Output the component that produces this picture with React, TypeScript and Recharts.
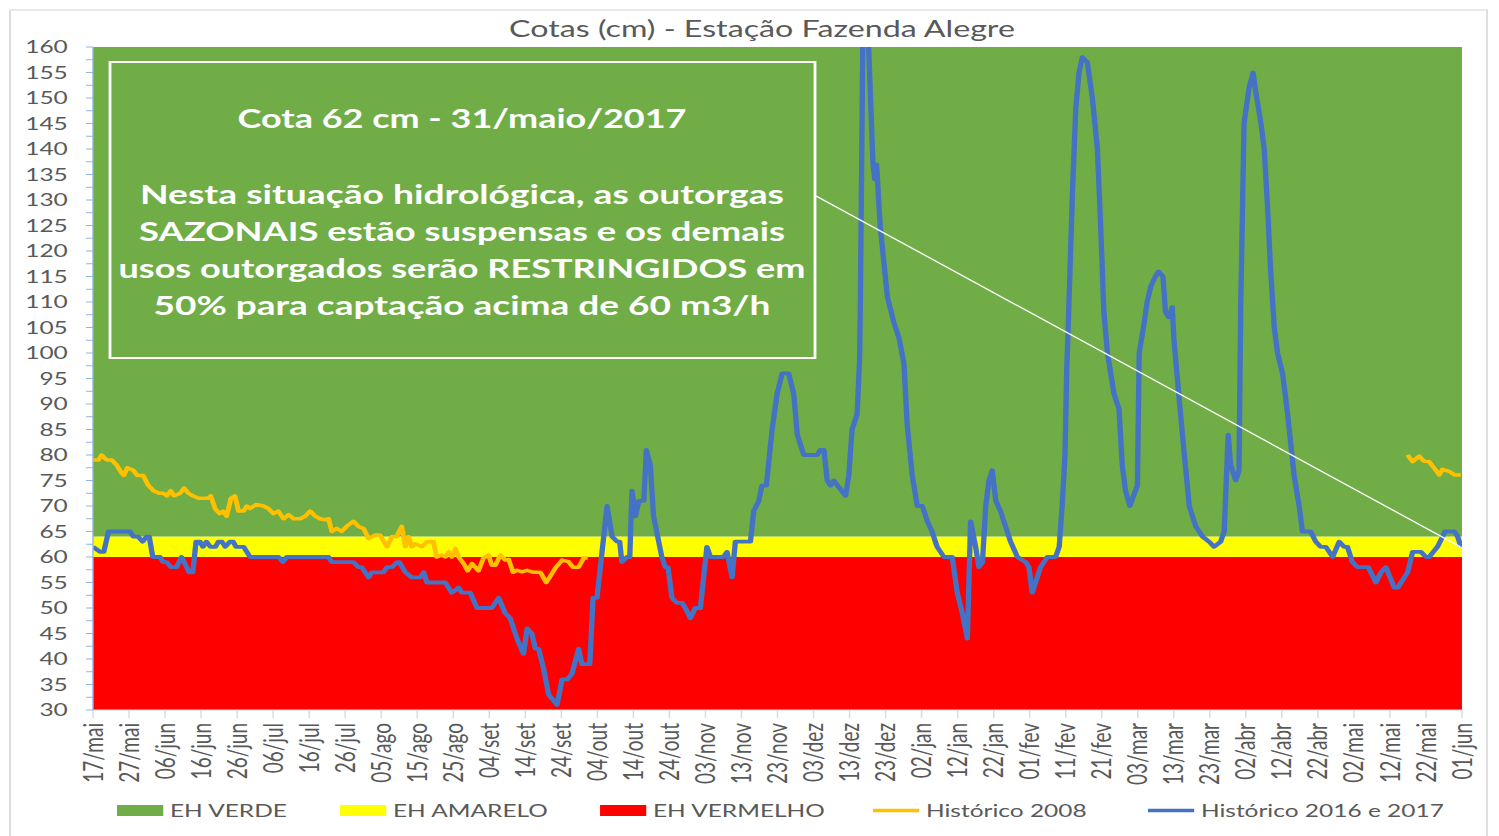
import { ComposedChart, Area, Line, XAxis, YAxis, ReferenceLine } from "recharts";

// the reference picture is stretched sideways, so the chart is drawn narrow and widened
const SX = 1.4;
const W = 1499 / SX;
const H = 836;

const TEXT = "#595959";
const FONT = "Lato, 'Open Sans', sans-serif";

// one label every 10 days, from 17/05/2016 to 01/06/2017
const X_LABELS = [
  "17/mai", "27/mai", "06/jun", "16/jun", "26/jun", "06/jul", "16/jul", "26/jul", "05/ago", "15/ago",
  "25/ago", "04/set", "14/set", "24/set", "04/out", "14/out", "24/out", "03/nov", "13/nov", "23/nov",
  "03/dez", "13/dez", "23/dez", "02/jan", "12/jan", "22/jan", "01/fev", "11/fev", "21/fev", "03/mar",
  "13/mar", "23/mar", "02/abr", "12/abr", "22/abr", "02/mai", "12/mai", "22/mai", "01/jun",
];
const X_TICKS = X_LABELS.map((_, i) => i * 10);

const Y_LABELS = [30, 35, 40, 45, 50, 55, 60, 65, 70, 75, 80, 85, 90, 95, 100, 105, 110, 115, 120, 125, 130, 135, 140, 145, 150, 155, 160];
const Y_HALF = Y_LABELS.slice(1).map((v) => v - 2.5);

// bands (cm): vermelho up to 60, amarelo 60-64, verde above
const BAND_DAYS = [0, 380];
const EH_VERMELHO = [60, 60];
const EH_AMARELO = [4, 4];
const EH_VERDE = [96, 96];

// [day since 17/mai, cota cm]
const HIST_2016_2017: [number, number][] = [
  [0, 62], [2, 61], [3, 61], [4.3, 65], [10.3, 65], [11.2, 64], [12.5, 64], [13.8, 63], [14.9, 64], [15.6, 64],
  [16.6, 60], [18.6, 60], [19.5, 59], [20.5, 59], [21.6, 58], [23.2, 58], [24.6, 60], [26, 58], [26.7, 57], [27.7, 57],
  [28.6, 63], [29.7, 63], [30.5, 62], [31.5, 63], [32.6, 62], [34, 62], [34.8, 63], [35.8, 63], [36.7, 62], [38, 63],
  [38.9, 63], [39.7, 62], [41.8, 62], [43.6, 60], [51.5, 60], [52.7, 59], [53.8, 60], [65.4, 60], [66.3, 59], [72.3, 59],
  [73.7, 58], [74.6, 58], [76.5, 56], [77.4, 57], [80.6, 57], [81.6, 58], [83, 58], [84.4, 59], [85, 59], [86.7, 57],
  [88.5, 56], [90.8, 56], [91.8, 57], [92.7, 55], [97.8, 55], [99.6, 53], [101.5, 54], [102.4, 53], [104.7, 53], [106.6, 50],
  [110.7, 50], [112.6, 52], [114.4, 49], [115.8, 48], [117.7, 44], [119.5, 41], [120.5, 46], [121.8, 45], [122.8, 42], [123.7, 42],
  [125.1, 38], [126.5, 33], [128.8, 31], [130.2, 36], [131.6, 36], [132.9, 37], [134.8, 42], [135.7, 39], [137.9, 39], [138.8, 52],
  [139.9, 52], [141.3, 61], [142.7, 70], [144.1, 64], [145.5, 63], [146.2, 63], [146.8, 59], [148.2, 60], [149, 60], [149.6, 73],
  [150.6, 68], [151.5, 71], [152.9, 71], [153.6, 81], [154.7, 78], [155.6, 68], [157.9, 60], [158.9, 58], [159.6, 58], [160.7, 52],
  [162.1, 51], [163.5, 51], [164.4, 50], [165.8, 48], [167.2, 50], [168.6, 50], [170.4, 62], [171.4, 60], [175, 60], [176, 61],
  [177.4, 56], [178.3, 63], [182.5, 63], [183.4, 69], [184.8, 71], [185.7, 74], [186.9, 74], [188.5, 85], [189.9, 92], [191.3, 96],
  [193.1, 96], [194.5, 92], [195.5, 84], [197.3, 80], [201, 80], [201.9, 81], [202.9, 81], [203.8, 75], [204.7, 74], [205.6, 75],
  [208.9, 72], [209.8, 76], [210.7, 85], [212.1, 88], [212.8, 99], [213, 110], [214, 185], [216.5, 137], [217, 134], [217.5, 137],
  [218.5, 125], [220.5, 111], [222.3, 106], [223.7, 103], [225.1, 98], [226, 86], [227.4, 76], [228.8, 70], [230.2, 70], [231.6, 67],
  [232.9, 65], [234.3, 62], [236.2, 60], [238.5, 60], [239.9, 53], [241.3, 49], [242.7, 44], [243.6, 67], [245, 62], [245.9, 58],
  [246.9, 59], [247.8, 70], [248.7, 75], [249.6, 77], [250.6, 71], [251.9, 69], [253.3, 66], [254.7, 63], [256.6, 60], [258.9, 59],
  [259.8, 58], [260.7, 53], [262.1, 56], [263, 58], [264.9, 60], [267.2, 60], [268.2, 62], [269.1, 71], [269.8, 80], [270.3, 97],
  [270.6, 103], [271.9, 132], [272.8, 148], [273.7, 155], [274.6, 158], [276, 157], [277.4, 150], [278.8, 140], [279.7, 125], [280.6, 108],
  [281.6, 100], [283.4, 92], [284.8, 89], [285.7, 78], [286.6, 73], [287.8, 70], [289.9, 74], [290.4, 100], [291.8, 106], [292.6, 110],
  [293.6, 113], [294.9, 115], [295.8, 116], [297, 115], [297.7, 108], [298.6, 107], [299.6, 109], [300, 103], [301.5, 91], [302.4, 84],
  [304.3, 70], [306.1, 66], [308, 64], [309.8, 63], [311.2, 62], [313, 63], [314, 65], [315.1, 84], [315.8, 78], [317.2, 75],
  [318.1, 77], [318.6, 110], [319.5, 145], [320.9, 152], [322, 155], [322.8, 151], [324.2, 145], [325.1, 140], [326, 129], [326.9, 116],
  [327.9, 105], [328.8, 100], [330.2, 96], [331.6, 88], [333.4, 76], [334.8, 70], [335.7, 65], [338, 65], [339.4, 63], [340.8, 62],
  [342.2, 62], [344.1, 60], [345.9, 63], [347.3, 62], [348.2, 62], [349.6, 59], [351, 58], [354, 58], [356.1, 55], [357.5, 57],
  [358.9, 58], [361.2, 54], [362.2, 54], [364.9, 57], [366.3, 61], [367.2, 61], [368.6, 61], [370, 60], [370.9, 60], [373.2, 62],
  [374.6, 64], [375.3, 65], [377.9, 65], [378.8, 64], [379.7, 62],
];

// 2008 series has a gap between late september and mid may
const HIST_2008: [number, number | null][] = [
  [0, 79], [1.5, 79], [2.4, 80], [3.8, 79], [5.2, 79], [6.6, 78], [7.9, 76.5], [8.6, 76], [9.5, 77.5], [11.2, 77],
  [12.3, 76], [13.9, 76], [15.4, 74], [16.8, 73], [18.4, 72.5], [19.5, 72.5], [20.5, 72], [21.6, 73], [22.5, 72], [24.2, 72.5],
  [25.3, 73.5], [26.5, 72.5], [27.7, 72], [29.3, 71.5], [32, 71.5], [32.7, 72], [33.9, 69.5], [35.1, 68.5], [36.2, 69], [37.1, 68],
  [38.3, 71.5], [39.4, 72], [40.4, 69], [41.8, 69], [42.7, 70], [43.6, 69.5], [45.3, 70.3], [47.3, 70], [48.7, 69.5], [50.1, 68.5],
  [51.4, 69], [52.9, 67.5], [54.3, 68.3], [55.7, 67.5], [57.5, 67.5], [58.9, 68], [60.3, 69], [61.7, 68], [63, 67.5], [64.4, 67.3],
  [65.4, 67.5], [66.3, 65], [67.7, 65.6], [69, 65], [70.4, 66], [72.3, 67], [73.7, 66], [75.1, 65.6], [76.5, 63.6], [78.3, 64.3],
  [79.7, 64.3], [81.6, 62], [83, 64], [84.3, 64], [85.7, 66], [86.7, 62], [87.6, 64], [88.5, 62], [89.4, 62.6], [91.3, 62],
  [92.7, 63], [94.5, 63], [95.4, 60], [96.8, 60.4], [97.8, 60], [98.7, 61], [99.6, 60], [100.6, 61.7], [101.5, 60], [102.9, 58.7],
  [104, 57.3], [105.2, 58.7], [107, 57.3], [108.4, 59.8], [109.8, 60.4], [110.7, 58.4], [111.7, 58.4], [113.1, 60.4], [114.4, 59.4], [115.4, 59.5],
  [116.6, 57], [117.7, 57.4], [119.1, 57.1], [120.5, 57.4], [122.3, 57], [124.2, 57], [125.8, 55], [126.9, 56.2], [128.3, 57.8], [130.2, 59.4],
  [132, 59.1], [133.2, 58], [134.8, 58], [136.2, 59.8], [137.3, 59.8],
  [250, null],
  [364.9, 80], [366.3, 78.7], [368.1, 79.8], [369.4, 78.8], [370.9, 78.7], [372.3, 77.4], [373.7, 76.1], [374.6, 77.2], [376.4, 76.8], [377.9, 76.1],
  [379.7, 76.1],
];

const NOTE_TITLE = "Cota 62 cm - 31/maio/2017";
const NOTE_LINES = [
  "Nesta situação hidrológica, as outorgas",
  "SAZONAIS estão suspensas e os demais",
  "usos outorgados serão RESTRINGIDOS em",
  "50% para captação acima de 60 m3/h",
];
// measured widths of the note lines in the reference, in px
const NOTE_WIDTHS = [644, 646, 687, 617];

const bandData = BAND_DAYS.map((d, i) => ({ d, verm: EH_VERMELHO[i], amar: EH_AMARELO[i], verde: EH_VERDE[i] }));
const blueData = HIST_2016_2017.map(([d, v]) => ({ d, v }));
const orangeData = HIST_2008.map(([d, v]) => ({ d, v }));

function XTick({ x, y, payload }: any) {
  const label = X_LABELS[Math.round(payload.value / 10)];
  return (
    <text
      x={x}
      y={y}
      transform={`rotate(-90, ${x}, ${y})`}
      textAnchor="end"
      dy="0.36em"
      fill={TEXT}
      fontSize={19}
      fontFamily={FONT}
    >
      {label}
    </text>
  );
}

const LEGEND = [
  { name: "EH VERDE", color: "#70AD47", kind: "box", x: 83.6 },
  { name: "EH AMARELO", color: "#FFFF00", kind: "box", x: 242.9 },
  { name: "EH VERMELHO", color: "#FF0000", kind: "box", x: 428.6 },
  { name: "Histórico 2008", color: "#FFC000", kind: "line", x: 623.6 },
  { name: "Histórico 2016 e 2017", color: "#4472C4", kind: "line", x: 820 },
];

export default function App() {
  return (
    <div style={{ position: "absolute", left: 0, top: 0, width: 1499, height: H, overflow: "hidden", background: "#fff" }}>
      <div style={{ position: "relative", width: W, height: H, transform: `scaleX(${SX})`, transformOrigin: "0 0" }}>
        <ComposedChart width={W} height={H} data={bandData} margin={{ top: 47, right: W - 1462 / SX, bottom: 0, left: 0 }}>
          <XAxis
            dataKey="d"
            type="number"
            domain={[0, 380]}
            ticks={X_TICKS}
            interval={0}
            allowDataOverflow
            height={126}
            tickSize={8}
            tickMargin={5}
            tick={<XTick />}
            tickLine={{ stroke: "#d9d9d9" }}
            axisLine={{ stroke: "#d9d9d9" }}
          />
          <YAxis
            type="number"
            domain={[30, 160]}
            ticks={[...Y_LABELS, ...Y_HALF].sort((a, b) => a - b)}
            interval={0}
            allowDataOverflow
            width={93 / SX}
            tickSize={5}
            tickMargin={13}
            tickFormatter={(v: number) => (v % 5 === 0 ? String(v) : "")}
            tick={{ fill: TEXT, fontSize: 17.5, fontFamily: FONT }}
            tickLine={{ stroke: "#8eb4e3" }}
            axisLine={{ stroke: "#8eb4e3" }}
          />
          <YAxis
            yAxisId="r"
            orientation="right"
            type="number"
            domain={[30, 160]}
            ticks={Y_HALF}
            interval={0}
            width={0}
            tick={false}
            tickSize={3.5}
            tickLine={{ stroke: "#000" }}
            axisLine={{ stroke: "#d9d9d9" }}
          />
          <Area dataKey="verm" stackId="eh" type="linear" fill="#FF0000" fillOpacity={1} stroke="none" isAnimationActive={false} name="EH VERMELHO" />
          <Area dataKey="amar" stackId="eh" type="linear" fill="#FFFF00" fillOpacity={1} stroke="none" isAnimationActive={false} name="EH AMARELO" />
          <Area dataKey="verde" stackId="eh" type="linear" fill="#70AD47" fillOpacity={1} stroke="none" isAnimationActive={false} name="EH VERDE" />
          <Line
            data={orangeData}
            dataKey="v"
            type="linear"
            stroke="#FFC000"
            strokeWidth={3.5}
            strokeLinejoin="round"
            dot={false}
            activeDot={false}
            isAnimationActive={false}
            name="Histórico 2008"
          />
          <Line
            data={blueData}
            dataKey="v"
            type="linear"
            stroke="#4472C4"
            strokeWidth={3.8}
            strokeLinejoin="round"
            dot={false}
            activeDot={false}
            isAnimationActive={false}
            name="Histórico 2016 e 2017"
          />
          <ReferenceLine
            segment={[{ x: 200.7, y: 130.8 }, { x: 379.5, y: 62 }]}
            stroke="#fff"
            strokeWidth={1.2}
          />
        </ComposedChart>

        <svg width={W} height={H} style={{ position: "absolute", left: 0, top: 0, pointerEvents: "none" }}>
          <rect x={10 / SX} y={10} width={1477 / SX} height={900} fill="none" stroke="#d9d9d9" strokeWidth={1.2} />
          <text x={762 / SX} y={37} textAnchor="middle" fill={TEXT} fontSize={23} fontFamily={FONT}>
            Cotas (cm) - Estação Fazenda Alegre
          </text>

          <rect x={110 / SX} y={62} width={705 / SX} height={296} fill="none" stroke="#fff" strokeWidth={2} />
          <text
            x={462 / SX}
            y={128}
            textAnchor="middle"
            fill="#fff"
            fontSize={26}
            fontWeight={700}
            fontFamily={FONT}
            textLength={449 / SX}
            lengthAdjust="spacingAndGlyphs"
          >
            {NOTE_TITLE}
          </text>
          {NOTE_LINES.map((t, i) => (
            <text
              key={i}
              x={462 / SX}
              y={204 + i * 37}
              textAnchor="middle"
              fill="#fff"
              fontSize={26.5}
              fontWeight={700}
              fontFamily={FONT}
              textLength={NOTE_WIDTHS[i] / SX}
              lengthAdjust="spacingAndGlyphs"
            >
              {t}
            </text>
          ))}

          {LEGEND.map((item) => (
            <g key={item.name}>
              {item.kind === "box" ? (
                <rect x={item.x} y={805} width={33} height={11} fill={item.color} />
              ) : (
                <line x1={item.x} x2={item.x + 33} y1={810.5} y2={810.5} stroke={item.color} strokeWidth={3.5} />
              )}
              <text x={item.x + 37.8} y={817} fill={TEXT} fontSize={17.5} fontFamily={FONT}>
                {item.name}
              </text>
            </g>
          ))}
        </svg>
      </div>
    </div>
  );
}
